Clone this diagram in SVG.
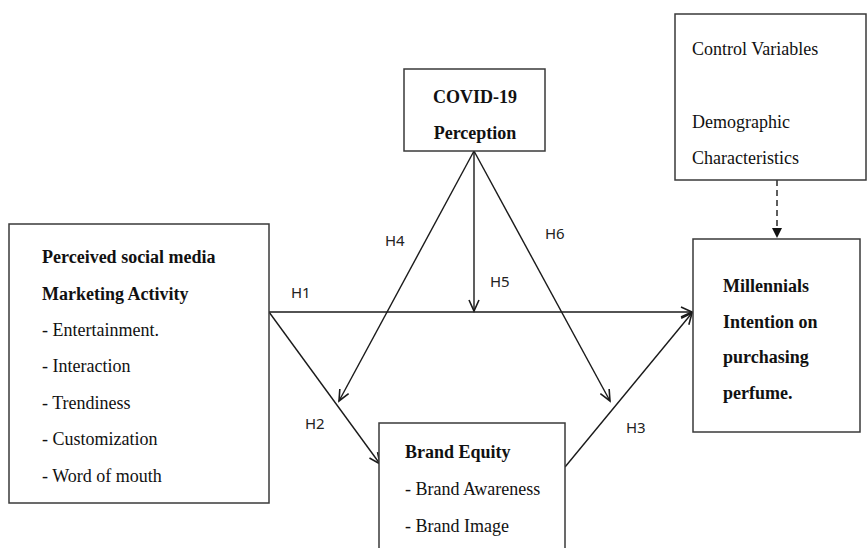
<svg xmlns="http://www.w3.org/2000/svg" width="867" height="548" viewBox="0 0 867 548">
<style>
.box{fill:#fff;stroke:#3a3a3a;stroke-width:1.5}
.t{font-family:"Liberation Serif","Times New Roman",serif;font-size:18px;fill:#111}
.b{font-weight:bold}
.lbl{font-family:"Noto Sans","DejaVu Sans",sans-serif;font-size:15px;fill:#222}
.c{fill:none;stroke:#1a1a1a;stroke-width:1.4}
</style>
<defs>
<marker id="v" markerWidth="14" markerHeight="12" refX="12" refY="6" orient="auto" markerUnits="userSpaceOnUse">
<path d="M1,1 L12,6 L1,11" fill="none" stroke="#1a1a1a" stroke-width="1.6"/>
</marker>
<marker id="tri" markerWidth="12" markerHeight="12" refX="10" refY="6" orient="auto" markerUnits="userSpaceOnUse">
<path d="M0,1 L10,6 L0,11 Z" fill="#111"/>
</marker>
</defs>
<rect width="867" height="548" fill="#fff"/>
<g id="connectors">
<line class="c" x1="269" y1="312" x2="692" y2="312" marker-end="url(#v)"/>
<line class="c" x1="474" y1="151" x2="474" y2="311" marker-end="url(#v)"/>
<line class="c" x1="474" y1="151" x2="339" y2="401" marker-end="url(#v)"/>
<line class="c" x1="474" y1="151" x2="610" y2="401" marker-end="url(#v)"/>
<line class="c" x1="269" y1="312" x2="380" y2="464" marker-end="url(#v)"/>
<line class="c" x1="565" y1="467" x2="692" y2="313" marker-end="url(#v)"/>
<line class="c" x1="777" y1="180" x2="777" y2="238" stroke-dasharray="6,4" marker-end="url(#tri)"/>
<text class="lbl" x="291" y="298">H1</text>
<text class="lbl" x="305" y="429">H2</text>
<text class="lbl" x="626" y="433">H3</text>
<text class="lbl" x="385" y="246">H4</text>
<text class="lbl" x="490" y="287">H5</text>
<text class="lbl" x="545" y="239">H6</text>
</g>
<g id="smma">
<rect class="box" x="9" y="224" width="260" height="279"/>
<text class="t b" x="42" y="263">Perceived social media</text>
<text class="t b" x="42" y="299.5">Marketing Activity</text>
<text class="t" x="42" y="336">- Entertainment.</text>
<text class="t" x="42" y="372">- Interaction</text>
<text class="t" x="42" y="408.5">- Trendiness</text>
<text class="t" x="42" y="445">- Customization</text>
<text class="t" x="42" y="481.5">- Word of mouth</text>
</g>
<g id="covid">
<rect class="box" x="404" y="69" width="141" height="82"/>
<text class="t b" x="475" y="103" text-anchor="middle">COVID-19</text>
<text class="t b" x="475" y="139" text-anchor="middle">Perception</text>
</g>
<g id="brand">
<rect class="box" x="379" y="423" width="186" height="140"/>
<text class="t b" x="405" y="458">Brand Equity</text>
<text class="t" x="405" y="495">- Brand Awareness</text>
<text class="t" x="405" y="532">- Brand Image</text>
</g>
<g id="control">
<rect class="box" x="675" y="14" width="191" height="166"/>
<text class="t" x="692" y="55">Control Variables</text>
<text class="t" x="692" y="128">Demographic</text>
<text class="t" x="692" y="164">Characteristics</text>
</g>
<g id="millennials">
<rect class="box" x="693" y="239" width="167" height="193"/>
<text class="t b" x="723" y="292">Millennials</text>
<text class="t b" x="723" y="328">Intention on</text>
<text class="t b" x="723" y="363">purchasing</text>
<text class="t b" x="723" y="399">perfume.</text>
</g>
</svg>
